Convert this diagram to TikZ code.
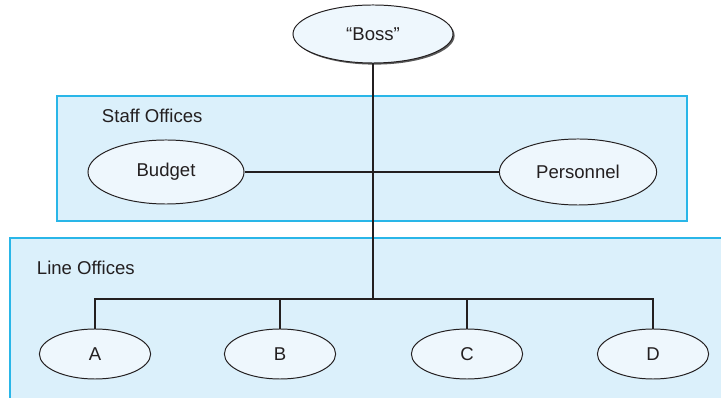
\documentclass[tikz,border=0pt]{standalone}
\usepackage{fontspec}
\setmainfont{Liberation Sans}
\usepackage{tikz}
\usetikzlibrary{positioning, shapes.geometric, shadows}

\definecolor{boxfill}{RGB}{219,240,251}
\definecolor{boxline}{RGB}{41,182,232}
\definecolor{ovalfill}{RGB}{238,247,253}
\definecolor{ink}{RGB}{35,31,32}

\begin{document}
\begin{tikzpicture}[
    x=0.025cm, y=-0.025cm,
    every node/.style={font=\fontsize{13.2}{15}\selectfont, text=ink},
    group/.style={draw=boxline, fill=boxfill, line width=0.9pt},
    office/.style={ellipse, draw=ink, fill=ovalfill, line width=0.7pt, inner sep=0pt},
    link/.style={draw=ink, line width=1.7pt}
]
    \useasboundingbox (0,0) rectangle (721,398);
    \clip (0,0) rectangle (721,398);

    % Groups
    \draw[group] (57,96) rectangle (687,221);
    \node[anchor=west] (stafflabel) at (97,116) {Staff Offices};
    \draw[group] (10,238) rectangle (730,410);
    \node[anchor=west] (linelabel) at (32,268) {Line Offices};

    % Top of the chart
    \node[office, minimum width=4cm, minimum height=1.45cm,
          drop shadow={shadow xshift=0.04cm, shadow yshift=-0.04cm, fill=black!65, opacity=1}]
          (boss) at (373,34) {“Boss”};

    % Staff
    \node[office, minimum width=3.9cm, minimum height=1.6cm] (budget) at (166,172) {Budget};
    \node[office, minimum width=3.93cm, minimum height=1.65cm] (personnel) at (578,172) {Personnel};

    % Line
    \node[office, minimum width=2.78cm, minimum height=1.25cm] (a) at (95,354) {A};
    \node[office, minimum width=2.78cm, minimum height=1.25cm] (b) at (280,354) {B};
    \node[office, minimum width=2.78cm, minimum height=1.25cm] (c) at (467,354) {C};
    \node[office, minimum width=2.78cm, minimum height=1.25cm] (d) at (653,354) {D};

    % Connectors
    \coordinate (bus) at (373,299);
    \draw[link] (budget.east) -- (personnel.west);
    \draw[link] (boss.south) -- (bus);
    \draw[link] (a.north) |- (bus) -| (d.north);
    \draw[link] (b.north) -- (b.north |- bus);
    \draw[link] (c.north) -- (c.north |- bus);

\end{tikzpicture}
\end{document}
